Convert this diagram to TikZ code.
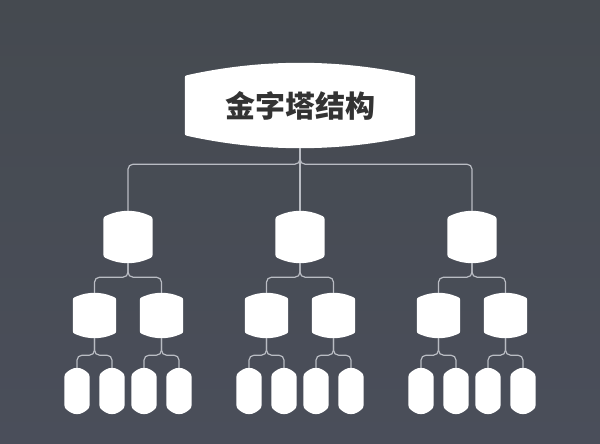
\documentclass[tikz,border=0pt]{standalone}
\usepackage{fontspec}
\usepackage{tikz}
\usetikzlibrary{calc}
\newfontfamily\cjk{Noto Sans CJK SC}
\definecolor{BoardTop}{HTML}{454A50}
\definecolor{BoardBot}{HTML}{4A4E5A}
\definecolor{Wire}{HTML}{B9BCC3}
\definecolor{Ink}{HTML}{333333}
\tikzset{
  barrel/.style n args={4}{shape=rectangle, inner sep=0pt, minimum width=#1, minimum height=#2,
    append after command={\pgfextra{
      \fill[white] let \p1=(\tikzlastnode.south west), \p2=(\tikzlastnode.north east),
        \n1={#3}, \n2={#4}, \n3={(\x2-\x1)/2-\n2}, \n4={2*atan(\n1/\n3)},
        \n5={2/3*(\n3+\n1*\n1/\n3)}, \n6={\n2*tan(\n4)}, \n7={\n2/cos(\n4)},
        \n8={\n5*cos(\n4)}, \n9={\n5*sin(\n4)} in
        (\x1,\y1+\n1+\n6+\n7) -- (\x1,\y2-\n1-\n6-\n7)
        .. controls (\x1,\y2-\n1-\n6) .. (\x1+\n2,\y2-\n1)
        .. controls (\x1+\n2+\n8,\y2-\n1+\n9) and (\x2-\n2-\n8,\y2-\n1+\n9) .. (\x2-\n2,\y2-\n1)
        .. controls (\x2,\y2-\n1-\n6) .. (\x2,\y2-\n1-\n6-\n7)
        -- (\x2,\y1+\n1+\n6+\n7)
        .. controls (\x2,\y1+\n1+\n6) .. (\x2-\n2,\y1+\n1)
        .. controls (\x2-\n2-\n8,\y1+\n1-\n9) and (\x1+\n2+\n8,\y1+\n1-\n9) .. (\x1+\n2,\y1+\n1)
        .. controls (\x1,\y1+\n1+\n6) .. (\x1,\y1+\n1+\n6+\n7) -- cycle;
    }}},
  rootbox/.style={barrel={230pt}{85pt}{12pt}{4pt}},
  midbox/.style={barrel={49pt}{52pt}{4pt}{5pt}},
  subbox/.style={barrel={43pt}{45pt}{3.5pt}{4pt}},
  leafbox/.style={barrel={25pt}{46pt}{2pt}{6pt}},
  link/.style={draw=Wire, line width=1.2pt, rounded corners=5pt}
}
\begin{document}
\begin{tikzpicture}[x=1pt,y=-1pt]
      \useasboundingbox (0,0) rectangle (600,444);
      \shade[top color=BoardTop,bottom color=BoardBot] (0,0) rectangle (600,444);

      % top
      \node[rootbox,text=Ink,font=\cjk\bfseries\fontsize{30}{32}\selectfont] (root) at (300,105.5) {金字塔结构};

      % second row
      \node[midbox] (m1) at (128,237) {};
      \node[midbox] (m2) at (300,237) {};
      \node[midbox] (m3) at (472,237) {};

      % third row
      \node[subbox] (s11) at (94.5,315.5) {};
      \node[subbox] (s12) at (161.5,315.5) {};
      \node[subbox] (s21) at (266.5,315.5) {};
      \node[subbox] (s22) at (333.5,315.5) {};
      \node[subbox] (s31) at (438.5,315.5) {};
      \node[subbox] (s32) at (505.5,315.5) {};

      % bottom row
      \node[leafbox] (l111) at (77,391) {};
      \node[leafbox] (l112) at (112,391) {};
      \node[leafbox] (l121) at (144,391) {};
      \node[leafbox] (l122) at (179,391) {};
      \node[leafbox] (l211) at (249,391) {};
      \node[leafbox] (l212) at (284,391) {};
      \node[leafbox] (l221) at (316,391) {};
      \node[leafbox] (l222) at (351,391) {};
      \node[leafbox] (l311) at (421,391) {};
      \node[leafbox] (l312) at (456,391) {};
      \node[leafbox] (l321) at (488,391) {};
      \node[leafbox] (l322) at (523,391) {};

      % links
      \draw[link] (root.south) -- ++(0,16) -| (m1.north);
      \draw[link] (root.south) -- (m2.north);
      \draw[link] (root.south) -- ++(0,16) -| (m3.north);

      \draw[link] (m1.south) -- ++(0,14) -| (s11.north);
      \draw[link] (m1.south) -- ++(0,14) -| (s12.north);
      \draw[link] (m2.south) -- ++(0,14) -| (s21.north);
      \draw[link] (m2.south) -- ++(0,14) -| (s22.north);
      \draw[link] (m3.south) -- ++(0,14) -| (s31.north);
      \draw[link] (m3.south) -- ++(0,14) -| (s32.north);

      \draw[link] (s11.south) -- ++(0,17) -| (l111.north);
      \draw[link] (s11.south) -- ++(0,17) -| (l112.north);
      \draw[link] (s12.south) -- ++(0,17) -| (l121.north);
      \draw[link] (s12.south) -- ++(0,17) -| (l122.north);
      \draw[link] (s21.south) -- ++(0,17) -| (l211.north);
      \draw[link] (s21.south) -- ++(0,17) -| (l212.north);
      \draw[link] (s22.south) -- ++(0,17) -| (l221.north);
      \draw[link] (s22.south) -- ++(0,17) -| (l222.north);
      \draw[link] (s31.south) -- ++(0,17) -| (l311.north);
      \draw[link] (s31.south) -- ++(0,17) -| (l312.north);
      \draw[link] (s32.south) -- ++(0,17) -| (l321.north);
      \draw[link] (s32.south) -- ++(0,17) -| (l322.north);
    \end{tikzpicture}
\end{document}
